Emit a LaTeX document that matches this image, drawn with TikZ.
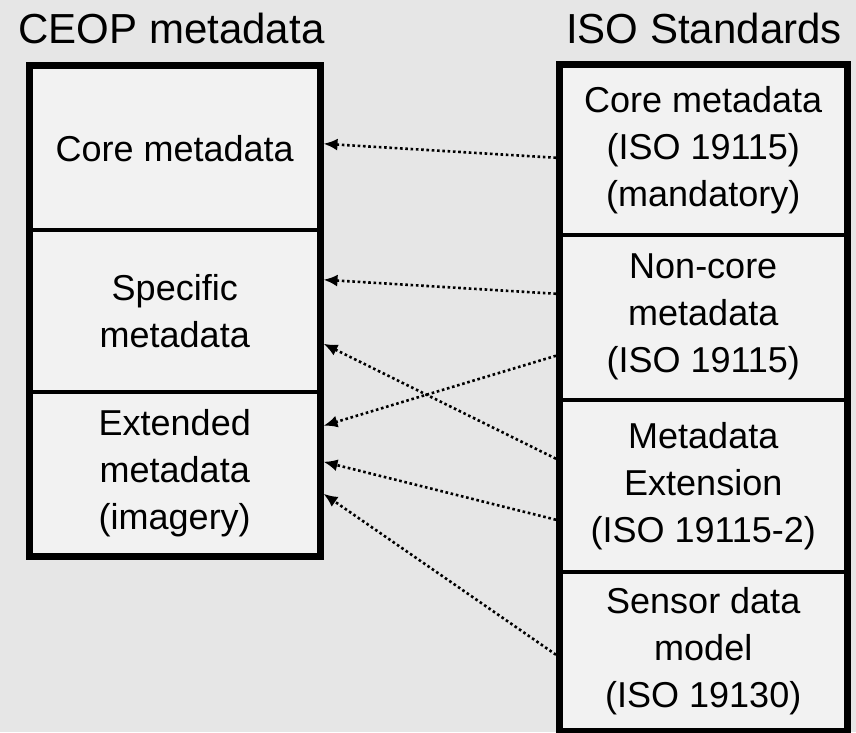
\documentclass[tikz,border=0pt]{standalone}
\usepackage{fontspec}
\setmainfont{Liberation Sans}
\usetikzlibrary{calc,arrows.meta}
\definecolor{bgc}{HTML}{E6E6E6}
\definecolor{cellc}{HTML}{F2F2F2}
\begin{document}
\begin{tikzpicture}[x=1pt,y=-1pt,
  cell/.style={draw=black,line width=3.5pt,fill=cellc,rectangle,inner sep=0pt,anchor=north west,align=center,
    font=\fontsize{36}{47}\selectfont},
  outer/.style={draw=black,line width=7pt},
  title/.style={font=\fontsize{42}{50}\selectfont,inner sep=0pt},
  conn/.style={line width=2.6pt,dash pattern=on 2.6pt off 2.7pt,-{Latex[length=14pt,width=12pt]}}]
\useasboundingbox (0,0) rectangle (856,732);
\fill[bgc] (0,0) rectangle (856,732);
% titles
\node[title] (t1) at (171.5,28) {CEOP metadata};
\node[title] (t2) at (704,28) {ISO Standards};
% left cells
\node[cell,minimum width=287pt,minimum height=163pt] (lc1) at (29.5,65) {Core metadata};
\node[cell,minimum width=287pt,minimum height=162pt] (lc2) at (29.5,228) {\fontsize{36}{52}\selectfont Specific\\metadata};
\node[cell,minimum width=287pt,minimum height=163pt] (lc3) at (29.5,390) {Extended\\metadata\\(imagery)};
\draw[outer] (lc1.north west) rectangle (lc3.south east);
% right cells
\node[cell,minimum width=284pt,minimum height=169pt] (rc1) at (559.5,64) {Core metadata\\(ISO 19115)\\(mandatory)};
\node[cell,minimum width=284pt,minimum height=165pt] (rc2) at (559.5,233) {Non-core\\metadata\\(ISO 19115)};
\node[cell,minimum width=284pt,minimum height=172pt] (rc3) at (559.5,398) {Metadata\\Extension\\(ISO 19115-2)};
\node[cell,minimum width=284pt,minimum height=158pt] (rc4) at (559.5,570) {Sensor data\\model\\(ISO 19130)};
\draw[outer] (rc1.north west) rectangle (rc4.south east);
% connectors
\draw[conn] ($(rc1.west)+(-3.5,7.5)$) -- ($(lc1.east)+(3.5,-4.5)$);
\draw[conn] ($(rc2.west)+(-3.5,-23.5)$) -- ($(lc2.east)+(3.5,-31)$);
\draw[conn] ($(rc3.west)+(-3.5,-27)$) -- ($(lc2.east)+(3.5,33)$);
\draw[conn] ($(rc2.west)+(-3.5,38.5)$) -- ($(lc3.east)+(3.5,-47.5)$);
\draw[conn] ($(rc3.west)+(-3.5,34)$) -- ($(lc3.east)+(3.5,-11.5)$);
\draw[conn] ($(rc4.west)+(-3.5,4)$) -- ($(lc3.east)+(3.5,20.5)$);
\end{tikzpicture}
\end{document}
